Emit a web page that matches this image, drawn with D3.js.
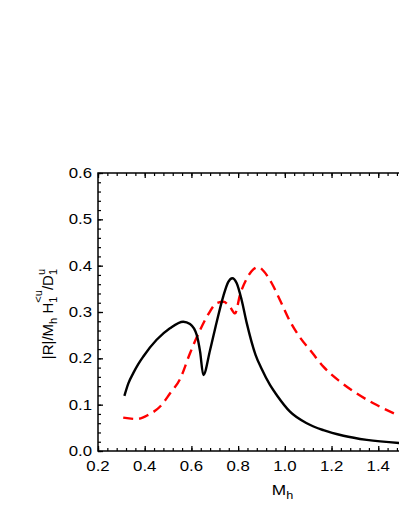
<!DOCTYPE html>
<html><head><meta charset="utf-8">
<script src="https://cdn.jsdelivr.net/npm/d3@7"></script>
<style>html,body{margin:0;padding:0;background:#fff;overflow:hidden}svg{display:block}</style>
</head><body>
<script>
const blackMh = [0.313,0.330,0.351,0.373,0.394,0.451,0.508,0.565,0.594,0.623,0.637,0.651,0.680,0.708,0.737,0.758,0.775,0.794,0.815,0.837,0.875,0.900,0.937,0.965,1.022,1.094,1.165,1.251,1.351,1.500];
const blackVal = [0.119,0.146,0.168,0.188,0.204,0.240,0.265,0.279,0.274,0.250,0.215,0.164,0.218,0.278,0.335,0.365,0.373,0.362,0.326,0.276,0.207,0.178,0.142,0.121,0.085,0.060,0.045,0.033,0.024,0.017];
const redMh = [0.308,0.366,0.415,0.466,0.508,0.551,0.594,0.637,0.672,0.708,0.737,0.765,0.787,0.808,0.837,0.865,0.887,0.908,0.944,0.979,1.022,1.065,1.108,1.165,1.236,1.308,1.379,1.500];
const redVal = [0.072,0.069,0.078,0.096,0.124,0.155,0.211,0.261,0.295,0.319,0.322,0.311,0.297,0.337,0.372,0.392,0.397,0.389,0.362,0.326,0.280,0.245,0.218,0.182,0.150,0.124,0.103,0.074];
const xTicks = [0.2,0.4,0.6,0.8,1.0,1.2,1.4];
const yTicks = [0.0,0.1,0.2,0.3,0.4,0.5,0.6];

const W = 399, H = 516;
const L = 98, R = 401.6, T = 173, B = 451;
const svg = d3.select("body").append("svg").attr("width", W).attr("height", H);
const x = d3.scaleLinear().domain([0.2, 1.5]).range([L, R]);
const y = d3.scaleLinear().domain([0, 0.6]).range([B, T]);
const font = "Liberation Sans, Arial, sans-serif";
const fmt = d3.format(".1f");

// curves
const line = d3.line().x(d => x(d[0])).y(d => y(d[1])).curve(d3.curveMonotoneX);
svg.append("clipPath").attr("id","c").append("rect").attr("x",L).attr("y",T).attr("width",R-L).attr("height",B-T);
const g = svg.append("g").attr("clip-path","url(#c)");
g.append("path").datum(redMh.map((m,i)=>[m,redVal[i]])).attr("d", line)
  .attr("fill","none").attr("stroke","#ff0000").attr("stroke-width",2.4).attr("stroke-dasharray","10,6");
g.append("path").datum(blackMh.map((m,i)=>[m,blackVal[i]])).attr("d", line)
  .attr("fill","none").attr("stroke","#000").attr("stroke-width",2.4);

// frame
svg.append("rect").attr("x",L).attr("y",T).attr("width",R-L).attr("height",B-T)
  .attr("fill","none").attr("stroke","#000").attr("stroke-width",1.5);

// ticks (inward)
const xMinor = d3.range(0.2, 1.5001, 0.04).map(v=>+v.toFixed(3));
const yMinor = d3.range(0, 0.6001, 0.02).map(v=>+v.toFixed(3));
function ticks(axis, pos, vals, size, w){
  svg.append("g").attr("transform",pos).call(axis.tickValues(vals).tickSize(-size).tickFormat(""))
    .call(s=>{s.select(".domain").remove(); s.selectAll("line").attr("stroke-width",w);});
}
ticks(d3.axisBottom(x), `translate(0,${B})`, xTicks, 5, 1.3);
ticks(d3.axisBottom(x), `translate(0,${B})`, xMinor, 3, 1.2);
ticks(d3.axisTop(x), `translate(0,${T})`, xTicks, 5, 1.3);
ticks(d3.axisTop(x), `translate(0,${T})`, xMinor, 3, 1.2);
ticks(d3.axisLeft(y), `translate(${L},0)`, yTicks, 5, 1.3);
ticks(d3.axisLeft(y), `translate(${L},0)`, yMinor, 3, 1.2);

// tick labels (horizontally stretched like the reference)
svg.append("g").selectAll("text").data(xTicks).join("text")
  .attr("transform", d => `translate(${x(d)},471) scale(1.2,1)`)
  .attr("text-anchor","middle").attr("font-family",font).attr("font-size",14).attr("fill","#000")
  .text(fmt);
svg.append("g").selectAll("text").data(yTicks).join("text")
  .attr("transform", d => `translate(92,${y(d)+5}) scale(1.2,1)`)
  .attr("text-anchor","end").attr("font-family",font).attr("font-size",14).attr("fill","#000")
  .text(fmt);

// x label
const xl = svg.append("text").attr("transform",`translate(${x(0.99)},495) scale(1.15,1)`).attr("text-anchor","middle")
  .attr("font-family",font).attr("font-size",15).attr("fill","#000");
xl.append("tspan").text("M");
xl.append("tspan").attr("font-size",11).attr("dy",4).text("h");

// y label
const yl = svg.append("text").attr("transform",`translate(53,314) rotate(-90)`).attr("text-anchor","middle")
  .attr("font-family",font).attr("font-size",15).attr("fill","#000");
yl.append("tspan").text("|R|/M");
yl.append("tspan").attr("font-size",11).attr("dy",4).text("h");
yl.append("tspan").attr("dy",-4).text(" H");
yl.append("tspan").attr("font-size",11).attr("dy",4).text("1");
yl.append("tspan").attr("font-size",11).attr("dx",-6).attr("dy",-15).text("<u");
yl.append("tspan").attr("dy",11).text("/D");
yl.append("tspan").attr("font-size",11).attr("dy",4).text("1");
yl.append("tspan").attr("font-size",11).attr("dx",-6).attr("dy",-12).text("u");
</script>
</body></html>
